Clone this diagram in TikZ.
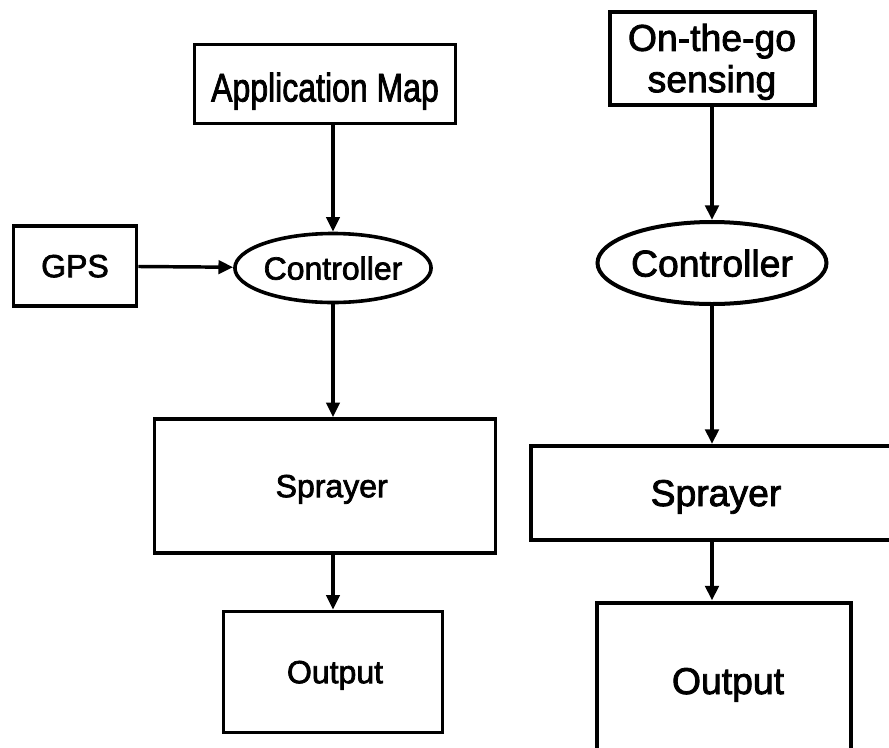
\documentclass[tikz,border=0pt]{standalone}
\usepackage{fontspec}
\setmainfont[FakeBold=2.2]{Liberation Sans}
\usetikzlibrary{positioning,arrows.meta,shapes.geometric}
\tikzset{
  flow/box/.style={draw, line width=2.7pt, inner sep=0pt, align=center,
                   text depth=0pt, font=\fontsize{24}{28}\selectfont},
  flow/oval/.style={flow/box, ellipse},
  flow/big/.style={line width=3pt, font=\fontsize{28}{31}\selectfont},
  flow/arrow/.style={-{Triangle[length=11pt,width=10pt]}, line width=2.6pt},
}
\begin{document}
\begin{tikzpicture}[x=0.75pt, y=-0.75pt]
  \useasboundingbox (0,0) rectangle (889,747);
  \clip (0,0) rectangle (889,747);

  % ---------------- map-based column ----------------
  \node[flow/box, minimum width=195.75pt, minimum height=59.25pt] (appmap)
    at (325,84) {\raisebox{-4.5pt}{\scalebox{1}[1.25]{Application Map}}};
  \node[flow/oval, minimum width=146.25pt, minimum height=51.75pt] (ctrlL)
    at (333,268) {Controller};
  \node[flow/box, minimum width=92.25pt, minimum height=60pt] (gps)
    at (75,266) {GPS};
  \node[flow/box, minimum width=255.75pt, minimum height=100.5pt] (sprL)
    at (325,486) {\hspace*{10pt}Sprayer};
  \node[flow/box, minimum width=164.25pt, minimum height=90.75pt] (outL)
    at (333,672) {\hspace*{3pt}Output};

  % ---------------- sensor-based column ----------------
  \node[flow/box, flow/big, minimum width=153.75pt, minimum height=69.75pt] (sense)
    at (712,58) {On-the-go\\sensing};
  \node[flow/oval, flow/big, minimum width=171.75pt, minimum height=61.5pt] (ctrlR)
    at (712,263) {Controller};
  \node[flow/box, flow/big, minimum width=271.5pt, minimum height=70.5pt] (sprR)
    at (712,493) {\hspace*{6pt}Sprayer};
  \node[flow/box, flow/big, minimum width=190.5pt, minimum height=117.75pt] (outR)
    at (724,681) {\hspace*{6pt}Output};

  % ---------------- connectors ----------------
  \draw[flow/arrow] (appmap.south -| ctrlL.north) -- (ctrlL.north);
  \draw[flow/arrow] (gps) -- (ctrlL);
  \draw[flow/arrow] (ctrlL.south) -- (sprL.north -| ctrlL.south);
  \draw[flow/arrow] (sprL.south -| outL.north) -- (outL.north);

  \draw[flow/arrow, line width=3pt] (sense.south) -- (ctrlR.north);
  \draw[flow/arrow, line width=3pt] (ctrlR.south) -- (sprR.north);
  \draw[flow/arrow, line width=3pt] (sprR.south) -- (sprR.south |- outR.north);
\end{tikzpicture}
\end{document}
